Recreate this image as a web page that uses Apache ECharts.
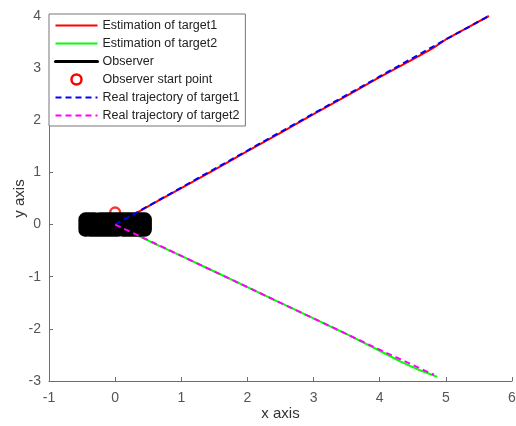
<!DOCTYPE html>
<html><head><meta charset="utf-8">
<script src="https://cdn.jsdelivr.net/npm/echarts@6/dist/echarts.min.js"></script>
<style>html,body{margin:0;padding:0;background:#fff}#c{width:516px;height:426px}</style>
</head><body><div id="c"></div>
<script>
var seriesNames = ['Estimation of target1','Estimation of target2','Observer','Observer start point','Real trajectory of target1','Real trajectory of target2'];
var xTicks = [-1,0,1,2,3,4,5,6];
var yTicks = [-3,-2,-1,0,1,2,3,4];
// Estimation of target1 (red)
var est1X = [0.15,0.6,1.0,1.5,2.0,2.5,3.0,3.5,4.0,4.5,4.8,5.0,5.3,5.65];
var est1Y = [0.1,0.42,0.7,1.05,1.41,1.76,2.12,2.47,2.83,3.17,3.38,3.55,3.76,4.0];
// Estimation of target2 (green)
var est2X = [0.1,0.6,1.0,1.5,2.0,2.5,3.0,3.5,4.0,4.3,4.6,4.87];
var est2Y = [-0.06,-0.37,-0.6,-0.9,-1.2,-1.5,-1.8,-2.1,-2.42,-2.62,-2.79,-2.92];
// Observer path
var obsX = [-0.45,-0.31,-0.27,-0.23,0.45,0.45,0.12,0.08,0.04,-0.38,-0.42,-0.45,-0.45];
var obsY = [0.1,0.1,0.02,0.1,0.1,-0.1,-0.1,-0.02,-0.1,-0.1,-0.02,-0.1,0.1];
// Observer start point
var startX = [0];
var startY = [0.23];
// Real trajectory of target1 (blue dashed)
var real1X = [0,1.0,2.0,3.0,4.0,5.0,5.65];
var real1Y = [0,0.71,1.42,2.13,2.84,3.55,4.0];
// Real trajectory of target2 (magenta dashed)
var real2X = [0,1.0,2.0,3.0,4.0,4.82];
var real2Y = [0,-0.6,-1.2,-1.8,-2.4,-2.88];

function pts(xs, ys){ return xs.map(function(x,i){return [x, ys[i]];}); }

var font = 'Liberation Sans, Arial, sans-serif';
var chart = echarts.init(document.getElementById('c'), null, {renderer:'canvas'});
chart.setOption({
  animation:false,
  backgroundColor:'#fff',
  grid:{left:49,right:4,top:16,bottom:45,containLabel:false,outerBoundsMode:'none'},
  xAxis:{type:'value',min:-1,max:6,interval:1,
    name:'x axis',nameLocation:'middle',nameGap:25,nameMoveOverlap:false,
    nameTextStyle:{fontFamily:font,fontSize:15,color:'#333'},
    axisLine:{onZero:false,lineStyle:{color:'#6e6e6e',width:1}},
    axisTick:{inside:true,length:4,lineStyle:{color:'#6e6e6e'}},
    axisLabel:{fontFamily:font,fontSize:14,color:'#555',margin:10,
      formatter:function(v){return xTicks.indexOf(v)>=0?String(v):'';}},
    splitLine:{show:false}},
  yAxis:{type:'value',min:-3,max:4,interval:1,
    name:'y axis',nameLocation:'middle',nameGap:22,nameMoveOverlap:false,
    nameTextStyle:{fontFamily:font,fontSize:15,color:'#333'},
    axisLine:{onZero:false,lineStyle:{color:'#6e6e6e',width:1}},
    axisTick:{inside:true,length:4,lineStyle:{color:'#6e6e6e'}},
    axisLabel:{fontFamily:font,fontSize:14,color:'#555',margin:8,
      formatter:function(v){return yTicks.indexOf(v)>=0?String(v):'';}},
    splitLine:{show:false}},
  legend:{orient:'vertical',left:49,top:14,itemWidth:42,itemHeight:10,itemGap:5,
    padding:[5,6,4,5],backgroundColor:'#fff',borderColor:'#777',borderWidth:1,
    textStyle:{fontFamily:font,fontSize:12.5,color:'#222'},
    itemStyle:{opacity:0},
    data:[
      {name:seriesNames[0]},
      {name:seriesNames[1]},
      {name:seriesNames[2],lineStyle:{width:3}},
      {name:seriesNames[3],itemStyle:{opacity:1,color:'#fff',borderColor:'#ff0000',borderWidth:2.5}},
      {name:seriesNames[4]},
      {name:seriesNames[5]}
    ]},
  series:[
    {name:seriesNames[0],type:'line',data:pts(est1X,est1Y),symbol:'none',
      color:'#ff0000',lineStyle:{color:'#ff0000',width:2}},
    {name:seriesNames[1],type:'line',data:pts(est2X,est2Y),symbol:'none',
      color:'#00ff00',lineStyle:{color:'#00ff00',width:2}},
    {name:seriesNames[2],type:'line',data:pts(obsX,obsY),symbol:'none',
      color:'#000',lineStyle:{color:'#000',width:14,cap:'round',join:'round'}},
    {name:seriesNames[3],type:'scatter',data:pts(startX,startY),symbol:'circle',symbolSize:10,
      itemStyle:{color:'rgba(255,255,255,0)',borderColor:'#ff0000',borderWidth:2.5}},
    {name:seriesNames[4],type:'line',data:pts(real1X,real1Y),symbol:'none',
      color:'#0000ff',lineStyle:{color:'#0000ff',width:2,type:[6,4]}},
    {name:seriesNames[5],type:'line',data:pts(real2X,real2Y),symbol:'none',
      color:'#ff00ff',lineStyle:{color:'#ff00ff',width:2,type:[6,4]}}
  ]
});
</script></body></html>
